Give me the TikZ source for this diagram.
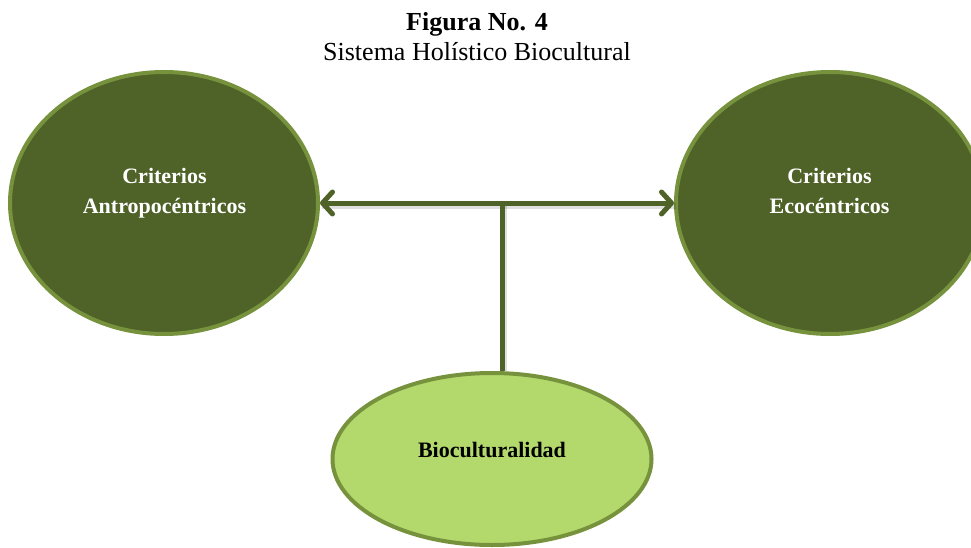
\documentclass[tikz,border=0pt]{standalone}
\usepackage{fontspec}
\setmainfont{Liberation Serif}
\usetikzlibrary{shapes.geometric,arrows.meta}

\definecolor{olivedark}{HTML}{4F6228}
\definecolor{oliveedge}{HTML}{76923C}
\definecolor{olivelight}{HTML}{B3D86C}

\tikzset{
  darkoval/.style={ellipse, draw=oliveedge, line width=4pt, fill=olivedark,
    inner sep=0pt, minimum width=308pt, minimum height=262pt},
  lightoval/.style={ellipse, draw=oliveedge, line width=4pt, fill=olivelight,
    inner sep=0pt, minimum width=319pt, minimum height=172pt},
  ovaltext/.style={inner sep=0pt, align=center, font=\fontsize{22}{30}\selectfont\bfseries},
  link/.style={draw=olivedark, line width=5pt},
  linkshadow/.style={draw=black, opacity=0.12, line width=6pt},
  barb/.tip={Straight Barb[length=10pt, width=22pt, line cap=round, line join=round]}
}

\begin{document}
\begin{tikzpicture}[x=1pt, y=-1pt]
  \useasboundingbox (0,0) rectangle (971,548);
  \clip (0,0) rectangle (971,548);

  % heading
  \node[anchor=base, inner sep=0pt, font=\fontsize{26}{30}\selectfont\bfseries] (title) at (477,31) {Figura No. 4};
  \node[anchor=base, inner sep=0pt, font=\fontsize{26}{30}\selectfont] (subtitle) at (477,61) {Sistema Holístico Biocultural};

  % the three ovals
  \node[darkoval] (antro) at (164,203) {};
  \node[darkoval] (eco) at (830,203) {};
  \node[lightoval] (bio) at (492,459) {};

  \node[ovaltext, text=white, anchor=north] (antrotext) at (164.5,168) {Criterios\\Antropocéntricos};
  \node[ovaltext, text=white, anchor=north] (ecotext) at (829.5,168) {Criterios\\Ecocéntricos};
  \node[ovaltext, text=black, anchor=base] (biotext) at (492,457) {Bioculturalidad};

  % junction on the horizontal link
  \coordinate (junction) at (502,203);

  % soft shadows under the links
  \draw[linkshadow] ([shift={(2,3)}]antro.east) -- ([shift={(2,3)}]eco.west);
  \draw[linkshadow] ([shift={(2,3)}]junction) -- ([shift={(2,0)}]junction |- bio.north);

  % links
  \draw[link, {barb}-{barb}] (antro.east) -- (eco.west);
  \draw[link] (junction) -- (junction |- bio.north);
\end{tikzpicture}
\end{document}
